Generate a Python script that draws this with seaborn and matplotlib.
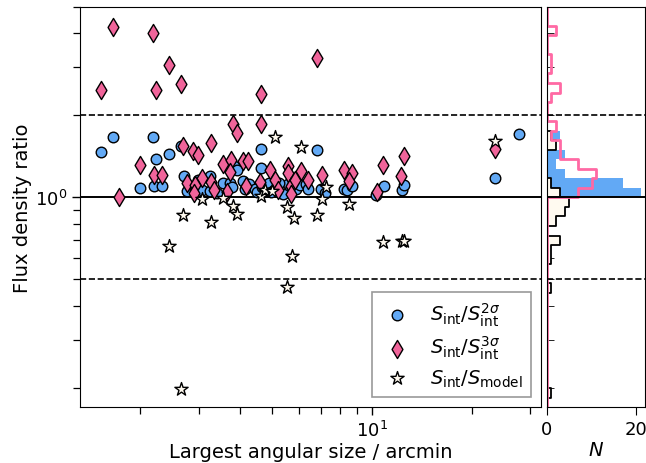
import numpy as np
import matplotlib
matplotlib.use("Agg")
import matplotlib.pyplot as plt
import seaborn as sns

# Largest angular size (arcmin) and flux density ratios for each source
las_2sig = [1.522, 1.654, 2.177, 2.231, 2.445, 2.653, 1.996, 2.200, 2.330, 2.701,
            2.761, 2.987, 2.920, 3.064, 3.246, 3.246, 3.553, 3.730, 3.774, 3.835,
            3.907, 4.082, 4.139, 4.256, 4.437, 4.489, 4.608, 4.625, 4.648, 4.872,
            5.063, 5.561, 5.657, 5.898, 6.064, 6.322, 6.424, 6.803, 7.019, 7.215,
            8.232, 8.388, 8.687, 10.28, 10.87, 12.29, 12.52, 23.50, 27.82,
            5.25, 3.40, 4.95, 5.40]
ratio_2sig = [1.467, 1.664, 1.673, 1.385, 1.446, 1.547, 1.081, 1.099, 1.099, 1.196,
              1.058, 1.161, 1.070, 1.067, 1.194, 1.056, 1.132, 1.127, 1.092, 1.306,
              1.263, 1.144, 1.075, 1.118, 1.072, 1.049, 1.500, 1.285, 1.092, 1.132,
              1.067, 1.118, 1.067, 1.076, 1.113, 1.123, 1.073, 1.489, 1.070, 1.038,
              1.076, 1.067, 1.104, 1.020, 1.097, 1.061, 1.113, 1.180, 1.712,
              1.130, 1.040, 1.050, 1.030]

las_3sig = [1.654, 2.180, 2.445, 1.522, 2.231, 2.655, 4.610, 6.803,
            3.816, 4.625, 3.907, 2.697, 3.268, 23.50, 2.890, 2.981, 12.49,
            1.991, 3.553, 3.746, 4.088, 4.217, 5.567, 10.82,
            2.200, 2.330, 3.730, 4.923, 5.567, 6.090, 7.080, 8.250, 8.690, 12.23, 3.064,
            2.772, 2.924, 3.268, 4.158, 4.580, 5.090, 5.700, 5.860, 6.424, 8.520,
            1.722, 2.900, 3.330, 5.700, 10.33, 3.650, 5.200]
ratio_3sig = [4.24, 4.01, 3.05, 2.47, 2.47, 2.60, 2.40, 3.25,
              1.862, 1.862, 1.730, 1.538, 1.582, 1.500, 1.474, 1.434, 1.413,
              1.310, 1.329, 1.366, 1.363, 1.355, 1.306, 1.314,
              1.211, 1.211, 1.235, 1.263, 1.228, 1.252, 1.211, 1.263, 1.228, 1.201, 1.180,
              1.129, 1.113, 1.135, 1.097, 1.135, 1.158, 1.097, 1.161, 1.161, 1.151,
              1.000, 1.038, 1.061, 1.029, 1.043, 1.050, 1.060]

las_model = [5.11, 6.09, 23.5, 7.25, 4.625, 4.756, 4.98, 3.553, 3.064, 7.08,
             8.52, 3.81, 5.53, 3.907, 2.697, 6.80, 5.83, 3.26, 2.449, 5.74,
             5.54, 2.653, 10.82, 12.29, 12.49]
ratio_model = [1.673, 1.530, 1.604, 1.092, 1.008, 1.067, 1.054, 0.995, 0.987, 0.985,
               0.946, 0.932, 0.922, 0.872, 0.864, 0.864, 0.839, 0.815, 0.661, 0.611,
               0.470, 0.198, 0.684, 0.694, 0.694]

labels = [r"$S_{\rm int}/S_{\rm int}^{2\sigma}$",
          r"$S_{\rm int}/S_{\rm int}^{3\sigma}$",
          r"$S_{\rm int}/S_{\rm model}$"]

c_blue = "#62a9f5"
c_pink = "#f0649a"
c_pink_line = "#ff69a4"
c_cream = "#fffaf0"

# log10 bin edges (0.035 dex wide, aligned on a ratio of 1)
log_edges = 0.035 * np.arange(-22, 21)

sns.set_style("ticks")
plt.rcParams["font.family"] = ["DejaVu Sans"]
plt.rcParams.update({
    "xtick.labelsize": 13, "ytick.labelsize": 13,
    "xtick.color": "black", "ytick.color": "black",
    "axes.edgecolor": "black", "axes.labelcolor": "black",
    "text.color": "black",
})

fig = plt.figure(figsize=(6.46, 4.64), dpi=100)
W, H = 646, 464
ax = fig.add_axes([80 / W, 1 - 408 / H, (541 - 80) / W, 400 / H])
axh = fig.add_axes([547 / W, 1 - 408 / H, (645 - 547) / W, 400 / H], sharey=ax)
ax.set_xscale("log")
ax.set_yscale("log")

for a in (ax, axh):
    z = 1 if a is ax else 5
    a.axhline(1.0, color="black", lw=1.4, zorder=z)
    a.axhline(2.0, color="black", lw=1.2, ls="--", zorder=z)
    a.axhline(0.5, color="black", lw=1.2, ls="--", zorder=z)

sns.scatterplot(x=las_2sig, y=ratio_2sig, ax=ax, marker="o", s=58, color=c_blue,
                edgecolor="black", linewidth=1.0, label=labels[0], zorder=3)
sns.scatterplot(x=las_3sig, y=ratio_3sig, ax=ax, marker="d", s=85, color=c_pink,
                edgecolor="black", linewidth=1.0, label=labels[1], zorder=3)
sns.scatterplot(x=las_model, y=ratio_model, ax=ax, marker="*", s=100, color=c_cream,
                edgecolor="black", linewidth=1.0, label=labels[2], zorder=3)

ax.set_xlim(1.316, 32.3)
ax.set_ylim(0.17, 5.0)
ax.set_xlabel("Largest angular size / arcmin", fontsize=14, labelpad=1)
ax.set_ylabel("Flux density ratio", fontsize=14, labelpad=2)
ax.tick_params(which="major", length=6, width=1)
ax.tick_params(which="minor", length=5, width=0.9)

leg = ax.legend(loc="lower right", fontsize=14, frameon=True, fancybox=False,
                edgecolor="#999999", framealpha=1, handlelength=1.6,
                handletextpad=0.9, borderpad=0.45, labelspacing=0.3)
leg.get_frame().set_linewidth(1.2)

# Marginal histograms of the ratios
sns.histplot(y=ratio_2sig, bins=log_edges, ax=axh, element="step", fill=True,
             facecolor=c_blue, edgecolor="none", linewidth=0, alpha=1)
sns.histplot(y=ratio_3sig, bins=log_edges, ax=axh, element="step", fill=False,
             color=c_pink_line, linewidth=2)
sns.histplot(y=ratio_model, bins=log_edges, ax=axh, element="step", fill=True,
             facecolor=c_cream, edgecolor="black", linewidth=1.3, alpha=1)

axh.set_xlim(0, 22)
axh.set_xticks([0, 20])
axh.set_xlabel(r"$N$", fontsize=14, labelpad=1)
axh.set_ylabel("")
axh.set_ylim(0.17, 5.0)
axh.tick_params(axis="y", which="both", direction="in", labelleft=False)
axh.tick_params(axis="y", which="major", length=6)
axh.tick_params(axis="y", which="minor", length=5)
axh.tick_params(axis="x", length=6)

fig.savefig("out.png", dpi=100)
